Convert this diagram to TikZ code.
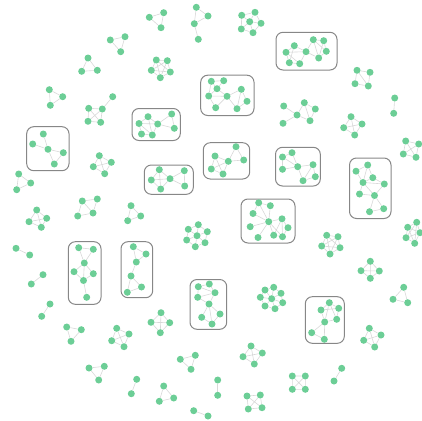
\documentclass[tikz,border=0pt]{standalone}
\usetikzlibrary{backgrounds}
\definecolor{nodegreen}{RGB}{108,206,150}
\definecolor{edgegray}{RGB}{216,216,216}
\definecolor{boxgray}{RGB}{135,135,135}
\tikzset{
  v/.style={circle,fill=nodegreen,draw=none,inner sep=0pt,minimum size=7pt},
  e/.style={draw=edgegray,line width=0.6pt},
  grp/.style={draw=boxgray,line width=1pt,rounded corners=7pt}
}
\begin{document}
\begin{tikzpicture}[x=1pt,y=-1pt]
\useasboundingbox (0,0) rectangle (422,420);
% ---------- boxes ----------
\draw[grp] (26.7,126.7) rectangle (69,170.7);
\draw[grp] (200.7,75.2) rectangle (254,115.5);
\draw[grp] (132,108.5) rectangle (180.3,140.5);
\draw[grp] (276,32.3) rectangle (337,70);
\draw[grp] (68.3,241.7) rectangle (101,304.3);
\draw[grp] (121,241.7) rectangle (152.7,297.7);
\draw[grp] (203.3,142.7) rectangle (249.7,179);
\draw[grp] (144.3,165) rectangle (193.3,194.3);
\draw[grp] (241,199) rectangle (295,243);
\draw[grp] (275.5,147.3) rectangle (320.3,186);
\draw[grp] (349.5,158) rectangle (391,218.5);
\draw[grp] (305.3,296.7) rectangle (344.3,343.3);
\draw[grp] (190,279.5) rectangle (226.7,329.3);
% ---------- nodes ----------
\node[v] (c1a) at (110.3,40) {}; \node[v] (c1b) at (125,36.7) {}; \node[v] (c1c) at (120.7,51.7) {};
\node[v] (c2a) at (88,58) {}; \node[v] (c2b) at (81.7,71.3) {}; \node[v] (c2c) at (97.3,70.3) {};
\node[v] (c3a) at (49.3,89.7) {}; \node[v] (c3b) at (62.7,96.7) {}; \node[v] (c3c) at (50.3,105.3) {};
\node[v] (c4a) at (112.7,96.7) {}; \node[v] (c4b) at (88.7,108.3) {}; \node[v] (c4c) at (102.3,109) {}; \node[v] (c4d) at (88,121.3) {}; \node[v] (c4e) at (100.7,122.3) {};
\node[v] (c5a) at (43.3,134) {}; \node[v] (c5b) at (32.7,144) {}; \node[v] (c5c) at (48,149.3) {}; \node[v] (c5d) at (63.3,152.7) {}; \node[v] (c5e) at (54.3,164) {};
\node[v] (c6a) at (149.3,17.3) {}; \node[v] (c6b) at (163.7,12.7) {}; \node[v] (c6c) at (161,27.7) {};
\node[v] (c7a) at (196.3,7.3) {}; \node[v] (c7b) at (208,16) {}; \node[v] (c7c) at (194.3,23.7) {}; \node[v] (c7d) at (198.3,39.3) {};
\node[v] (c8a) at (241.7,15.3) {}; \node[v] (c8b) at (255,12.3) {}; \node[v] (c8c) at (249.7,21.7) {}; \node[v] (c8d) at (261,23.3) {}; \node[v] (c8e) at (241.3,29) {}; \node[v] (c8f) at (253,32.7) {};
\node[v] (c9a) at (156.3,60) {}; \node[v] (c9b) at (167.3,60.7) {}; \node[v] (c9c) at (151.3,70.3) {}; \node[v] (c9d) at (170.3,72) {}; \node[v] (c9e) at (160.3,77.7) {};
\node[v] (c10a) at (211.3,81.3) {}; \node[v] (c10b) at (223.7,80.7) {}; \node[v] (c10c) at (217,88.7) {}; \node[v] (c10d) at (208.7,96) {}; \node[v] (c10e) at (227,96.3) {}; \node[v] (c10f) at (241.3,89.3) {}; \node[v] (c10g) at (247,101.3) {}; \node[v] (c10h) at (215.7,107.7) {}; \node[v] (c10i) at (237,108.7) {};
\node[v] (c11a) at (139,123.5) {}; \node[v] (c11b) at (148,116.7) {}; \node[v] (c11c) at (141.5,134) {}; \node[v] (c11d) at (152.3,135) {}; \node[v] (c11e) at (157.7,124) {}; \node[v] (c11f) at (171.7,114) {}; \node[v] (c11g) at (174.3,128.3) {};
\node[v] (c12a) at (294.3,45.7) {}; \node[v] (c12b) at (286,52.3) {}; \node[v] (c12c) at (306,51.7) {}; \node[v] (c12d) at (289.3,62.7) {}; \node[v] (c12e) at (299.7,63.7) {}; \node[v] (c12f) at (313.3,39.7) {}; \node[v] (c12g) at (323.7,40.7) {}; \node[v] (c12h) at (326.3,51.3) {}; \node[v] (c12i) at (318.7,58) {};
\node[v] (c13a) at (357,70.3) {}; \node[v] (c13b) at (370,72.3) {}; \node[v] (c13c) at (355,83.7) {}; \node[v] (c13d) at (368.3,86) {};
\node[v] (c14a) at (394.7,98) {}; \node[v] (c14b) at (393.7,113.3) {};
\node[v] (c15a) at (283.7,106) {}; \node[v] (c15b) at (304.3,102.7) {}; \node[v] (c15c) at (315.3,109) {}; \node[v] (c15d) at (297,115) {}; \node[v] (c15e) at (310,120.7) {}; \node[v] (c15f) at (283,123.3) {};
\node[v] (c16a) at (351,116.7) {}; \node[v] (c16b) at (362,124) {}; \node[v] (c16c) at (343.7,127.7) {}; \node[v] (c16d) at (354.7,135) {};
\node[v] (c17a) at (405.7,141) {}; \node[v] (c17b) at (418.7,144) {}; \node[v] (c17c) at (403.3,154) {}; \node[v] (c17d) at (416,157.3) {};
\node[v] (c18a) at (99.3,155.7) {}; \node[v] (c18b) at (111.3,162.3) {}; \node[v] (c18c) at (93.3,166.7) {}; \node[v] (c18d) at (104.7,173.7) {};
\node[v] (c19a) at (18.7,174) {}; \node[v] (c19b) at (30.7,183) {}; \node[v] (c19c) at (16.7,189.7) {};
\node[v] (c20a) at (36.7,210) {}; \node[v] (c20b) at (46.7,218.3) {}; \node[v] (c20c) at (29,221.7) {}; \node[v] (c20d) at (41.3,227.3) {};
\node[v] (c21a) at (82.3,201) {}; \node[v] (c21b) at (97.3,199) {}; \node[v] (c21c) at (77.7,216) {}; \node[v] (c21d) at (93,213) {};
\node[v] (c22a) at (131,205.7) {}; \node[v] (c22b) at (127.7,220.7) {}; \node[v] (c22c) at (140.7,216) {};
\node[v] (c23a) at (16,248.3) {}; \node[v] (c23b) at (29.7,255) {};
\node[v] (c24a) at (43,274.7) {}; \node[v] (c24b) at (31.3,284) {};
\node[v] (c25a) at (78.7,247.7) {}; \node[v] (c25b) at (93.3,249.3) {}; \node[v] (c25c) at (84.3,263) {}; \node[v] (c25d) at (74,271.7) {}; \node[v] (c25e) at (93.3,273.7) {}; \node[v] (c25f) at (83.5,280.5) {}; \node[v] (c25g) at (86.7,297.3) {};
\node[v] (c26a) at (133.3,246.7) {}; \node[v] (c26b) at (146,254) {}; \node[v] (c26c) at (136.3,262) {}; \node[v] (c26d) at (131,276) {}; \node[v] (c26e) at (141.5,287) {}; \node[v] (c26f) at (127.3,292.3) {};
\node[v] (c27a) at (236,146.7) {}; \node[v] (c27b) at (215,156) {}; \node[v] (c27c) at (228.3,161.3) {}; \node[v] (c27d) at (243.7,160) {}; \node[v] (c27e) at (211.3,169) {}; \node[v] (c27f) at (223,174) {};
\node[v] (c28a) at (159.3,169.7) {}; \node[v] (c28b) at (184.3,170.7) {}; \node[v] (c28c) at (151.3,180) {}; \node[v] (c28d) at (170,178.7) {}; \node[v] (c28e) at (160.7,189) {}; \node[v] (c28f) at (184.7,186) {};
\node[v] (c29a) at (258.7,202.8) {}; \node[v] (c29b) at (270.3,205.7) {}; \node[v] (c29c) at (253,213.5) {}; \node[v] (c29d) at (268.7,221.7) {}; \node[v] (c29e) at (250.2,226.7) {}; \node[v] (c29f) at (282,218.8) {}; \node[v] (c29g) at (288,227.7) {}; \node[v] (c29h) at (273.7,235.2) {}; \node[v] (c29i) at (282.5,236.7) {}; \node[v] (c29j) at (258,237.5) {};
\node[v] (c30a) at (292,152.7) {}; \node[v] (c30b) at (282.5,157) {}; \node[v] (c30c) at (297.7,166.7) {}; \node[v] (c30d) at (313,164.7) {}; \node[v] (c30e) at (282.5,169.3) {}; \node[v] (c30f) at (315.3,176.7) {}; \node[v] (c30g) at (303,180.7) {};
\node[v] (c31a) at (367.7,165) {}; \node[v] (c31b) at (356,171.2) {}; \node[v] (c31c) at (372.8,177.7) {}; \node[v] (c31d) at (363,182.5) {}; \node[v] (c31e) at (384.3,184) {}; \node[v] (c31f) at (359.5,194) {}; \node[v] (c31g) at (374.5,195.5) {}; \node[v] (c31h) at (369.5,211.7) {}; \node[v] (c31i) at (383.7,208.7) {};
\node[v] (c32a) at (198.3,224.7) {}; \node[v] (c32b) at (188.3,229.3) {}; \node[v] (c32c) at (207.3,231.7) {}; \node[v] (c32d) at (197,235.7) {}; \node[v] (c32e) at (186.7,240) {}; \node[v] (c32f) at (205,242.7) {}; \node[v] (c32g) at (195.3,246.7) {};
\node[v] (c33a) at (416.7,222.3) {}; \node[v] (c33b) at (407.7,227.3) {}; \node[v] (c33c) at (420,232.7) {}; \node[v] (c33d) at (406,237.7) {}; \node[v] (c33e) at (414.7,243.3) {};
\node[v] (c34a) at (326.7,235.3) {}; \node[v] (c34b) at (338,236.7) {}; \node[v] (c34c) at (321.7,246) {}; \node[v] (c34d) at (340,247.7) {}; \node[v] (c34e) at (330,254) {};
\node[v] (c35a) at (370.3,261.3) {}; \node[v] (c35b) at (361,270.7) {}; \node[v] (c35c) at (379.3,271) {}; \node[v] (c35d) at (370.3,278.3) {};
\node[v] (c36a) at (403.7,287.3) {}; \node[v] (c36b) at (393,299.3) {}; \node[v] (c36c) at (407.7,302.7) {};
\node[v] (c37a) at (329.3,302.7) {}; \node[v] (c37b) at (321,310) {}; \node[v] (c37c) at (338.7,308.3) {}; \node[v] (c37d) at (336.7,319.3) {}; \node[v] (c37e) at (324.7,322) {}; \node[v] (c37f) at (311.7,332.7) {}; \node[v] (c37g) at (324.3,339.3) {};
\node[v] (c38a) at (369.3,328.3) {}; \node[v] (c38b) at (381,335) {}; \node[v] (c38c) at (363.7,340.3) {}; \node[v] (c38d) at (374.7,347) {};
\node[v] (c39a) at (341.7,368.3) {}; \node[v] (c39b) at (334,381) {};
\node[v] (c40a) at (292.3,376) {}; \node[v] (c40b) at (305.3,376) {}; \node[v] (c40c) at (292.3,389.3) {}; \node[v] (c40d) at (305.3,389.3) {};
\node[v] (c41a) at (198.3,286.7) {}; \node[v] (c41b) at (209.3,284) {}; \node[v] (c41c) at (197.7,297.3) {}; \node[v] (c41d) at (215,292.7) {}; \node[v] (c41e) at (209,304) {}; \node[v] (c41f) at (201.7,317.3) {}; \node[v] (c41g) at (220,314) {}; \node[v] (c41h) at (212,324) {};
\node[v] (c42a) at (265,290) {}; \node[v] (c42b) at (273.7,287.3) {}; \node[v] (c42c) at (281,293.3) {}; \node[v] (c42d) at (260.3,297.3) {}; \node[v] (c42e) at (271.7,298.7) {}; \node[v] (c42f) at (282.7,302.7) {}; \node[v] (c42g) at (265,306) {}; \node[v] (c42h) at (275,308.7) {};
\node[v] (c43a) at (161,312.7) {}; \node[v] (c43b) at (151,322.3) {}; \node[v] (c43c) at (169.7,322.7) {}; \node[v] (c43d) at (160.3,332.7) {};
\node[v] (c44a) at (251,346) {}; \node[v] (c44b) at (262.3,353) {}; \node[v] (c44c) at (243,356.7) {}; \node[v] (c44d) at (254.3,364) {};
\node[v] (c45a) at (180.3,359.3) {}; \node[v] (c45b) at (195.3,355.3) {}; \node[v] (c45c) at (191,369.3) {};
\node[v] (c46a) at (217.7,380) {}; \node[v] (c46b) at (217.7,395.3) {};
\node[v] (c47a) at (163.7,386) {}; \node[v] (c47b) at (173.7,398) {}; \node[v] (c47c) at (159.3,401.3) {};
\node[v] (c48a) at (193.7,410.7) {}; \node[v] (c48b) at (208,416) {};
\node[v] (c49a) at (247,396) {}; \node[v] (c49b) at (260.3,395) {}; \node[v] (c49c) at (248.3,409) {}; \node[v] (c49d) at (262,407.7) {};
\node[v] (c50a) at (50,304) {}; \node[v] (c50b) at (41.7,316.3) {};
\node[v] (c51a) at (66.7,327) {}; \node[v] (c51b) at (81.3,329.7) {}; \node[v] (c51c) at (71,341.3) {};
\node[v] (c52a) at (116.7,328.3) {}; \node[v] (c52b) at (129,334) {}; \node[v] (c52c) at (111.7,340.7) {}; \node[v] (c52d) at (124,346.7) {};
\node[v] (c53a) at (89,368) {}; \node[v] (c53b) at (104.3,366.3) {}; \node[v] (c53c) at (98.7,380) {};
\node[v] (c54a) at (136.7,379.3) {}; \node[v] (c54b) at (131.3,393.7) {};
% ---------- edges ----------
\begin{pgfonlayer}{background}
\draw[e] (c1a)--(c1b)--(c1c)--(c1a);
\draw[e] (c2a)--(c2b)--(c2c)--(c2a);
\draw[e] (c3a)--(c3b)--(c3c)--(c3a);
\draw[e] (c4a)--(c4c) (c4b)--(c4c) (c4b)--(c4d) (c4c)--(c4e) (c4d)--(c4e) (c4b)--(c4e) (c4c)--(c4d);
\draw[e] (c5a)--(c5c) (c5b)--(c5c) (c5c)--(c5d) (c5d)--(c5e) (c5c)--(c5e);
\draw[e] (c6a)--(c6b)--(c6c)--(c6a);
\draw[e] (c7a)--(c7b)--(c7c)--(c7a) (c7c)--(c7d);
\draw[e] (c8a)--(c8b) (c8a)--(c8c) (c8a)--(c8e) (c8b)--(c8c) (c8b)--(c8d) (c8c)--(c8d) (c8c)--(c8e) (c8c)--(c8f) (c8d)--(c8f) (c8e)--(c8f);
\draw[e] (c9a)--(c9b) (c9a)--(c9c) (c9a)--(c9d) (c9a)--(c9e) (c9b)--(c9c) (c9b)--(c9d) (c9b)--(c9e) (c9c)--(c9d) (c9c)--(c9e) (c9d)--(c9e);
\draw[e] (c10a)--(c10b) (c10a)--(c10c) (c10b)--(c10c) (c10a)--(c10d) (c10c)--(c10d) (c10c)--(c10e) (c10d)--(c10e) (c10d)--(c10h) (c10e)--(c10h) (c10e)--(c10f) (c10e)--(c10i) (c10f)--(c10g) (c10f)--(c10i) (c10g)--(c10i);
\draw[e] (c11a)--(c11b) (c11a)--(c11e) (c11b)--(c11e) (c11a)--(c11d) (c11a)--(c11c) (c11c)--(c11d) (c11d)--(c11e) (c11e)--(c11f) (c11e)--(c11g) (c11f)--(c11g) (c11b)--(c11d);
\draw[e] (c12a)--(c12b) (c12a)--(c12c) (c12b)--(c12d) (c12b)--(c12e) (c12a)--(c12d) (c12d)--(c12e) (c12c)--(c12e) (c12b)--(c12c) (c12c)--(c12f) (c12c)--(c12i) (c12f)--(c12g) (c12g)--(c12h) (c12h)--(c12i) (c12f)--(c12i) (c12f)--(c12h) (c12g)--(c12i);
\draw[e] (c13a)--(c13b) (c13a)--(c13c) (c13b)--(c13d) (c13c)--(c13d) (c13a)--(c13d);
\draw[e] (c14a)--(c14b);
\draw[e] (c15a)--(c15d) (c15f)--(c15d) (c15b)--(c15d) (c15b)--(c15c) (c15c)--(c15e) (c15d)--(c15e) (c15b)--(c15e);
\draw[e] (c16a)--(c16b) (c16a)--(c16c) (c16b)--(c16d) (c16c)--(c16d) (c16a)--(c16d) (c16b)--(c16c);
\draw[e] (c17a)--(c17b) (c17a)--(c17c) (c17b)--(c17d) (c17c)--(c17d) (c17a)--(c17d) (c17b)--(c17c);
\draw[e] (c18a)--(c18b) (c18a)--(c18c) (c18b)--(c18d) (c18c)--(c18d) (c18a)--(c18d) (c18b)--(c18c);
\draw[e] (c19a)--(c19b)--(c19c)--(c19a);
\draw[e] (c20a)--(c20b) (c20a)--(c20c) (c20b)--(c20d) (c20c)--(c20d) (c20a)--(c20d) (c20b)--(c20c);
\draw[e] (c21a)--(c21b) (c21a)--(c21c) (c21b)--(c21d) (c21c)--(c21d) (c21a)--(c21d);
\draw[e] (c22a)--(c22b)--(c22c)--(c22a);
\draw[e] (c23a)--(c23b);
\draw[e] (c24a)--(c24b);
\draw[e] (c25a)--(c25c) (c25b)--(c25c) (c25a)--(c25b) (c25c)--(c25d) (c25c)--(c25e) (c25d)--(c25f) (c25e)--(c25f) (c25c)--(c25f) (c25f)--(c25g);
\draw[e] (c26a)--(c26c) (c26b)--(c26c) (c26a)--(c26b) (c26c)--(c26d) (c26d)--(c26e) (c26d)--(c26f) (c26e)--(c26f);
\draw[e] (c27a)--(c27c) (c27a)--(c27d) (c27c)--(c27d) (c27b)--(c27c) (c27b)--(c27e) (c27c)--(c27e) (c27c)--(c27f) (c27e)--(c27f) (c27b)--(c27f);
\draw[e] (c28a)--(c28c) (c28a)--(c28d) (c28c)--(c28d) (c28c)--(c28e) (c28d)--(c28e) (c28a)--(c28e) (c28d)--(c28b) (c28d)--(c28f) (c28b)--(c28f);
\draw[e] (c29d)--(c29a) (c29d)--(c29b) (c29d)--(c29c) (c29d)--(c29e) (c29d)--(c29j) (c29d)--(c29h) (c29d)--(c29f) (c29d)--(c29i) (c29a)--(c29b) (c29a)--(c29c) (c29f)--(c29g) (c29g)--(c29i) (c29h)--(c29i) (c29f)--(c29h) (c29f)--(c29i);
\draw[e] (c30a)--(c30b) (c30a)--(c30c) (c30b)--(c30c) (c30b)--(c30e) (c30c)--(c30e) (c30c)--(c30d) (c30c)--(c30g) (c30d)--(c30f) (c30f)--(c30g) (c30d)--(c30g);
\draw[e] (c31a)--(c31b) (c31a)--(c31c) (c31b)--(c31d) (c31c)--(c31d) (c31c)--(c31e) (c31d)--(c31e) (c31d)--(c31g) (c31e)--(c31g) (c31f)--(c31g) (c31d)--(c31f) (c31g)--(c31h) (c31g)--(c31i) (c31h)--(c31i) (c31a)--(c31d);
\draw[e] (c32d)--(c32a) (c32d)--(c32b) (c32d)--(c32c) (c32d)--(c32e) (c32d)--(c32f) (c32d)--(c32g) (c32a)--(c32b) (c32a)--(c32c) (c32b)--(c32e) (c32c)--(c32f) (c32e)--(c32g) (c32f)--(c32g);
\draw[e] (c33a)--(c33b) (c33a)--(c33c) (c33a)--(c33d) (c33a)--(c33e) (c33b)--(c33c) (c33b)--(c33d) (c33b)--(c33e) (c33c)--(c33d) (c33c)--(c33e) (c33d)--(c33e);
\draw[e] (c34a)--(c34b) (c34a)--(c34c) (c34a)--(c34d) (c34a)--(c34e) (c34b)--(c34c) (c34b)--(c34d) (c34b)--(c34e) (c34c)--(c34d) (c34c)--(c34e) (c34d)--(c34e);
\draw[e] (c35a)--(c35b) (c35a)--(c35c) (c35b)--(c35d) (c35c)--(c35d) (c35a)--(c35d) (c35b)--(c35c);
\draw[e] (c36a)--(c36b)--(c36c)--(c36a);
\draw[e] (c37a)--(c37b) (c37a)--(c37c) (c37a)--(c37d) (c37b)--(c37c) (c37b)--(c37e) (c37c)--(c37d) (c37d)--(c37e) (c37a)--(c37e) (c37e)--(c37f) (c37e)--(c37g) (c37f)--(c37g);
\draw[e] (c38a)--(c38b) (c38a)--(c38c) (c38b)--(c38d) (c38c)--(c38d) (c38a)--(c38d) (c38b)--(c38c);
\draw[e] (c39a)--(c39b);
\draw[e] (c40a)--(c40b) (c40a)--(c40c) (c40b)--(c40d) (c40c)--(c40d) (c40a)--(c40d) (c40b)--(c40c);
\draw[e] (c41a)--(c41b) (c41a)--(c41c) (c41b)--(c41d) (c41a)--(c41d) (c41c)--(c41d) (c41c)--(c41e) (c41d)--(c41e) (c41e)--(c41f) (c41e)--(c41g) (c41e)--(c41h) (c41f)--(c41h) (c41g)--(c41h);
\draw[e] (c42e)--(c42a) (c42e)--(c42b) (c42e)--(c42c) (c42e)--(c42d) (c42e)--(c42f) (c42e)--(c42g) (c42e)--(c42h) (c42a)--(c42b) (c42b)--(c42c) (c42c)--(c42f) (c42f)--(c42h) (c42h)--(c42g) (c42g)--(c42d) (c42d)--(c42a);
\draw[e] (c43a)--(c43b) (c43a)--(c43c) (c43b)--(c43d) (c43c)--(c43d) (c43a)--(c43d) (c43b)--(c43c);
\draw[e] (c44a)--(c44b) (c44a)--(c44c) (c44b)--(c44d) (c44c)--(c44d) (c44a)--(c44d) (c44b)--(c44c);
\draw[e] (c45a)--(c45b)--(c45c)--(c45a);
\draw[e] (c46a)--(c46b);
\draw[e] (c47a)--(c47b)--(c47c)--(c47a);
\draw[e] (c48a)--(c48b);
\draw[e] (c49a)--(c49b) (c49a)--(c49c) (c49b)--(c49d) (c49c)--(c49d) (c49a)--(c49d) (c49b)--(c49c);
\draw[e] (c50a)--(c50b);
\draw[e] (c51a)--(c51b)--(c51c)--(c51a);
\draw[e] (c52a)--(c52b) (c52a)--(c52c) (c52b)--(c52d) (c52c)--(c52d) (c52a)--(c52d) (c52b)--(c52c);
\draw[e] (c53a)--(c53b)--(c53c)--(c53a);
\draw[e] (c54a)--(c54b);
\end{pgfonlayer}
\end{tikzpicture}
\end{document}
